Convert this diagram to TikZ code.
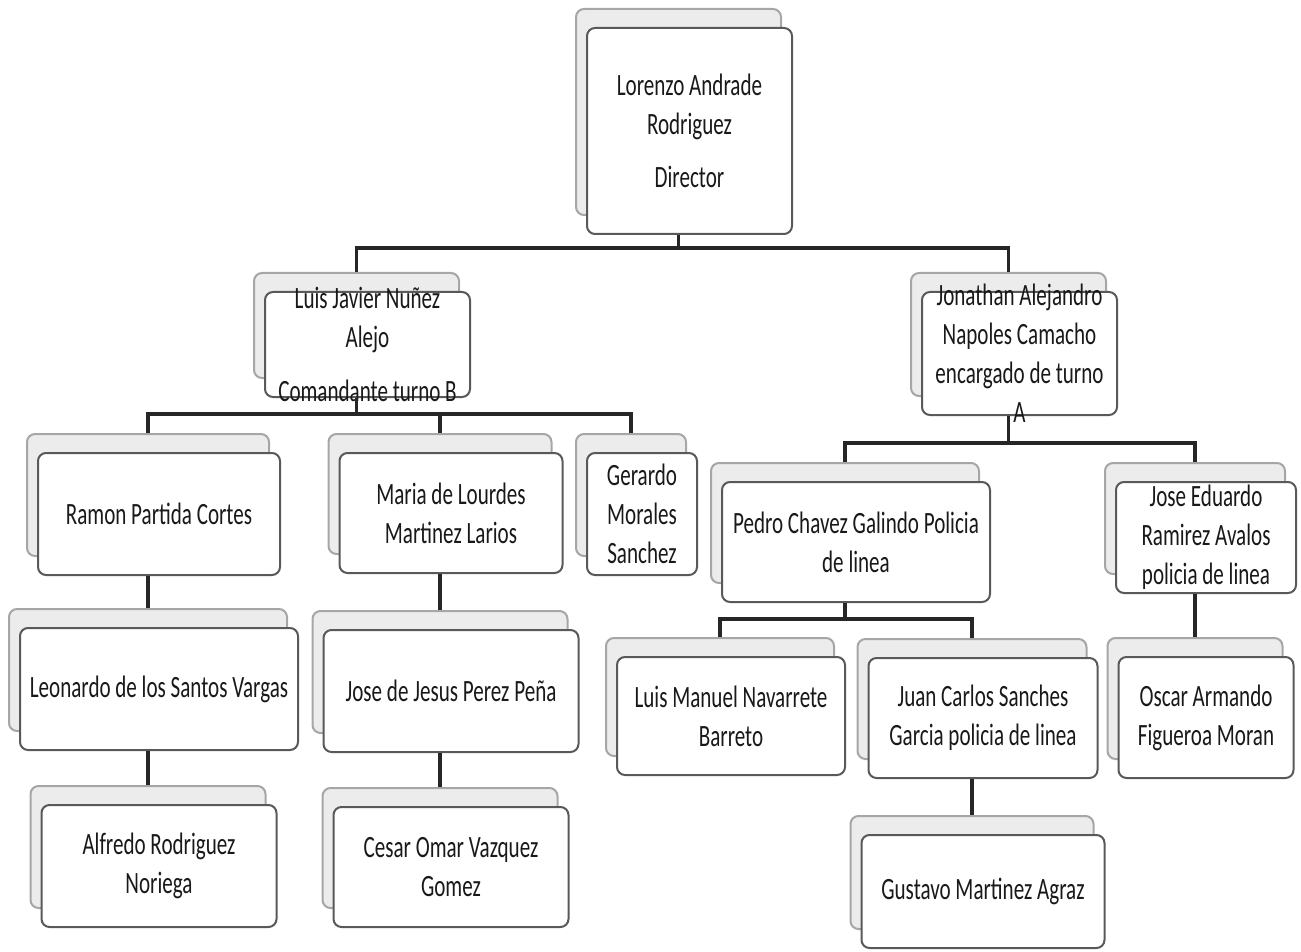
\documentclass[tikz,border=0pt]{standalone}
\usepackage{fontspec}
\setmainfont{Carlito}[FakeStretch=0.68]
\usetikzlibrary{shadows}

\tikzset{
	card/.style={draw=black!65, line width=1pt, rounded corners=4pt, fill=white, inner sep=0pt,
		copy shadow={shadow xshift=-5.5pt, shadow yshift=9.5pt, fill=gray!15, draw=gray!70}},
	link/.style={line width=1.6pt, black!85},
	shadow foot/.style={xshift=-5.5pt},
	shadow head/.style={xshift=-5.5pt, yshift=9.5pt}
}

\begin{document}
\begin{tikzpicture}[x=0.5pt, y=-0.5pt, font=\fontsize{15.5}{19.5}\selectfont,
	every label/.style={align=center, inner sep=0pt, text=black!90}]
	\useasboundingbox (0,0) rectangle (1301,952);

	% director
	\node[card, minimum width=102.5pt, minimum height=103pt,
		label={center:{Lorenzo Andrade\\Rodriguez\\[7pt]Director}}] (dir) at (689.5,131) {};

	% turnos
	\node[card, minimum width=102.5pt, minimum height=52.5pt,
		label={center:{Luis Javier Nuñez\\Alejo\\[7.5pt]Comandante turno B}}] (ljn) at (367.5,344.5) {};
	\node[card, minimum width=97.5pt, minimum height=61.5pt,
		label={center:{Jonathan Alejandro\\Napoles Camacho\\encargado de turno\\A}}] (jan) at (1019.5,353.5) {};

	% turno B
	\node[card, minimum width=121pt, minimum height=61pt,
		label={center:{Ramon Partida Cortes}}] (rpc) at (159,514) {};
	\node[card, minimum width=111.5pt, minimum height=60pt,
		label={center:{Maria de Lourdes\\Martinez Larios}}] (mdl) at (451,513) {};
	\node[card, minimum width=55pt, minimum height=61pt,
		label={center:{Gerardo\\Morales\\Sanchez}}] (gms) at (642,514) {};
	\node[card, minimum width=139pt, minimum height=61pt,
		label={center:{Leonardo de los Santos Vargas}}] (lsv) at (159,689) {};
	\node[card, minimum width=127.5pt, minimum height=61pt,
		label={center:{Jose de Jesus Perez Peña}}] (jjp) at (451,691) {};
	\node[card, minimum width=117.5pt, minimum height=61pt,
		label={center:{Alfredo Rodriguez\\Noriega}}] (arn) at (159,866) {};
	\node[card, minimum width=117.5pt, minimum height=60pt,
		label={center:{Cesar Omar Vazquez\\Gomez}}] (cov) at (451,867) {};

	% turno A
	\node[card, minimum width=134pt, minimum height=60pt,
		label={center:{Pedro Chavez Galindo Policia\\de linea}}] (pcg) at (856,542) {};
	\node[card, minimum width=90pt, minimum height=55.5pt,
		label={center:{Jose Eduardo\\Ramirez Avalos\\policia de linea}}] (jer) at (1206,537.5) {};
	\node[card, minimum width=114pt, minimum height=59pt,
		label={center:{Luis Manuel Navarrete\\Barreto}}] (lmn) at (731,716) {};
	\node[card, minimum width=114.5pt, minimum height=60pt,
		label={center:{Juan Carlos Sanches\\Garcia policia de linea}}] (jcs) at (983,718) {};
	\node[card, minimum width=87.5pt, minimum height=60.5pt,
		label={center:{Oscar Armando\\Figueroa Moran}}] (oaf) at (1206,717.5) {};
	\node[card, minimum width=121.5pt, minimum height=56.5pt,
		label={center:{Gustavo Martinez Agraz}}] (gma) at (983,891.5) {};

	% lines
	\draw[link] ([shadow foot]dir.south) -- ++(0,-6.5pt) -| ([shadow head]ljn.north);
	\draw[link] ([shadow foot]dir.south) -- ++(0,-6.5pt) -| ([shadow head]jan.north);

	\draw[link] ([shadow foot]ljn.south) -- ++(0,-8pt) -| ([shadow head]rpc.north);
	\draw[link] ([shadow foot]ljn.south) -- ++(0,-8pt) -| ([shadow head]mdl.north);
	\draw[link] ([shadow foot]ljn.south) -- ++(0,-8pt) -| ([shadow head]gms.north);
	\draw[link] ([shadow foot]rpc.south) -- ([shadow head]lsv.north);
	\draw[link] ([shadow foot]lsv.south) -- ([shadow head]arn.north);
	\draw[link] ([shadow foot]mdl.south) -- ([shadow head]jjp.north);
	\draw[link] ([shadow foot]jjp.south) -- ([shadow head]cov.north);

	\draw[link] ([shadow foot]jan.south) -- ++(0,-13.5pt) -| ([shadow head]pcg.north);
	\draw[link] ([shadow foot]jan.south) -- ++(0,-13.5pt) -| ([shadow head]jer.north);
	\draw[link] ([shadow foot]pcg.south) -- ++(0,-8pt) -| ([shadow head]lmn.north);
	\draw[link] ([shadow foot]pcg.south) -- ++(0,-8pt) -| ([shadow head]jcs.north);
	\draw[link] ([shadow foot]jcs.south) -- ([shadow head]gma.north);
	\draw[link] ([shadow foot]jer.south) -- ([shadow head]oaf.north);
\end{tikzpicture}
\end{document}
